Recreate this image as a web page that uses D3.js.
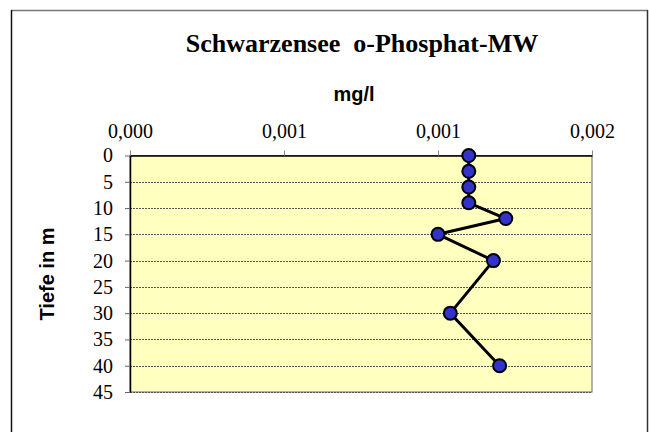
<!DOCTYPE html>
<html><head><meta charset="utf-8">
<script src="https://cdn.jsdelivr.net/npm/d3@7"></script>
<style>body{margin:0;background:#fff}svg{display:block}</style>
</head><body>
<svg id="c" width="649" height="432"></svg>
<script>
const depths = [0, 3, 6, 9, 12, 15, 20, 30, 40];
const phosphat = [0.0011, 0.0011, 0.0011, 0.0011, 0.00122, 0.001, 0.00118, 0.00104, 0.0012];
const xTicks = [0, 0.0005, 0.001, 0.0015];
const xTickLabels = ["0,000", "0,001", "0,001", "0,002"];
const yTicks = [0, 5, 10, 15, 20, 25, 30, 35, 40, 45];
const title = "Schwarzensee  o-Phosphat-MW";
const xTitle = "mg/l";
const yTitle = "Tiefe in m";

const svg = d3.select("#c");
const L = 130, R = 592, T = 155.5, B = 392;
const x = d3.scaleLinear().domain([0, 0.0015]).range([L, R]);
const y = d3.scaleLinear().domain([0, 45]).range([T, B]);

// chart frame
svg.append("line").attr("x1", 11).attr("x2", 648).attr("y1", 10.5).attr("y2", 10.5).attr("stroke", "#777").attr("stroke-width", 1.5);
svg.append("line").attr("x1", 11.5).attr("x2", 11.5).attr("y1", 10).attr("y2", 432).attr("stroke", "#111").attr("stroke-width", 1.5);
svg.append("line").attr("x1", 647.5).attr("x2", 647.5).attr("y1", 10).attr("y2", 432).attr("stroke", "#333").attr("stroke-width", 1.5);

// plot area
svg.append("rect").attr("x", L).attr("y", T).attr("width", R - L).attr("height", B - T)
  .attr("fill", "#FFFFC0").attr("stroke", "#666").attr("stroke-width", 1);

// gridlines
svg.append("g").selectAll("line").data(yTicks.filter(d => d > 0)).join("line")
  .attr("x1", L).attr("x2", R)
  .attr("y1", d => Math.round(y(d)) + 0.5).attr("y2", d => Math.round(y(d)) + 0.5)
  .attr("stroke", "#555").attr("stroke-dasharray", "2,1").attr("stroke-width", 1);

// top axis
const xAxis = d3.axisTop(x).tickValues(xTicks).tickSize(5).tickSizeOuter(0)
  .tickFormat((d, i) => xTickLabels[i]);
const gx = svg.append("g").attr("transform", `translate(0,${T})`).call(xAxis);
gx.select(".domain").attr("stroke", "#000").attr("stroke-width", 1.5);
gx.selectAll(".tick line").attr("stroke", "#888");
gx.selectAll("text").attr("font-family", "'Liberation Serif', 'Times New Roman', serif")
  .attr("font-size", 20).attr("fill", "#000").attr("dy", 0).attr("y", -18);

// left axis
const yAxis = d3.axisLeft(y).tickValues(yTicks).tickSize(5).tickSizeOuter(0);
const gy = svg.append("g").attr("transform", `translate(${L},0)`).call(yAxis);
gy.select(".domain").attr("stroke", "#000").attr("stroke-width", 1.5);
gy.selectAll(".tick line").attr("stroke", "#666");
gy.selectAll("text").attr("font-family", "'Liberation Serif', 'Times New Roman', serif")
  .attr("font-size", 20).attr("fill", "#000").attr("x", -17);

// line
const line = d3.line().x((d, i) => x(phosphat[i])).y(d => y(d));
svg.append("path").datum(depths).attr("d", line).attr("fill", "none")
  .attr("stroke", "#000").attr("stroke-width", 3).attr("stroke-linejoin", "round");

// markers
svg.append("g").selectAll("circle").data(depths).join("circle")
  .attr("cx", (d, i) => x(phosphat[i])).attr("cy", d => y(d)).attr("r", 6.5)
  .attr("fill", "#3333CC").attr("stroke", "#000").attr("stroke-width", 2);

// titles
svg.append("text").attr("x", 362).attr("y", 52).attr("text-anchor", "middle")
  .style("white-space", "pre")
  .attr("font-family", "'Liberation Serif', 'Times New Roman', serif").attr("font-weight", "bold")
  .attr("font-size", 26).text(title);
svg.append("text").attr("x", 354).attr("y", 101).attr("text-anchor", "middle")
  .attr("font-family", "'Liberation Sans', Arial, sans-serif").attr("font-weight", "bold")
  .attr("font-size", 20).text(xTitle);
svg.append("text").attr("transform", "translate(54,274) rotate(-90)").attr("text-anchor", "middle")
  .attr("font-family", "'Liberation Sans', Arial, sans-serif").attr("font-weight", "bold")
  .attr("font-size", 20).text(yTitle);
</script>
</body></html>
